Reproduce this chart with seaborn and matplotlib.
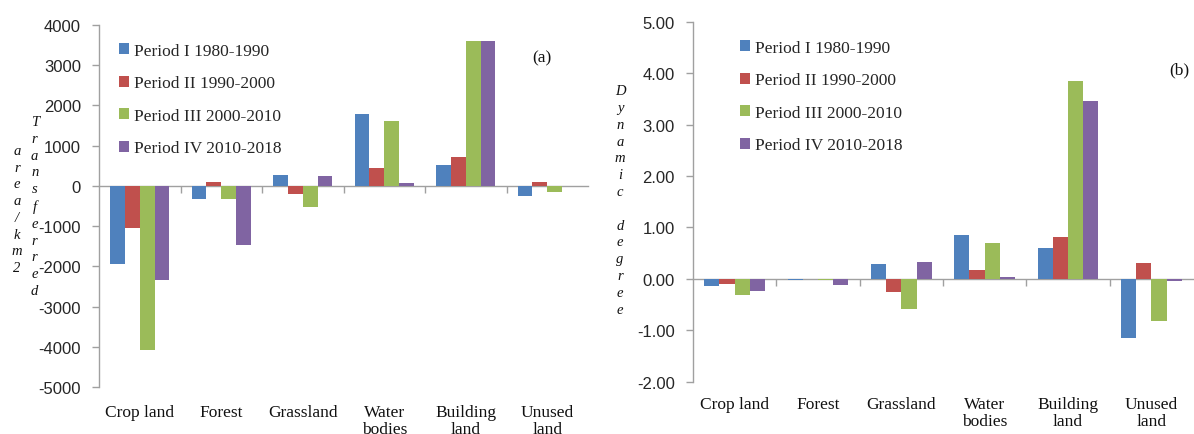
import numpy as np
import pandas as pd
import seaborn as sns
import matplotlib
matplotlib.use("Agg")
import matplotlib.pyplot as plt

# ---------------- data ----------------
categories = ["Crop land", "Forest", "Grassland", "Water\nbodies", "Building\nland", "Unused\nland"]
periods = ["Period I 1980-1990", "Period II 1990-2000", "Period III 2000-2010", "Period IV 2010-2018"]

transfer_p1 = [-1930, -316, 274, 1780, 515, -250]
transfer_p2 = [-1050, 100, -207, 440, 715, 92]
transfer_p3 = [-4070, -330, -524, 1610, 3590, -142]
transfer_p4 = [-2340, -1460, 250, 66, 3590, -15]

dynamic_p1 = [-0.14, -0.03, 0.28, 0.86, 0.60, -1.15]
dynamic_p2 = [-0.10, -0.01, -0.25, 0.18, 0.82, 0.30]
dynamic_p3 = [-0.31, -0.03, -0.59, 0.69, 3.85, -0.82]
dynamic_p4 = [-0.23, -0.11, 0.33, 0.03, 3.46, -0.05]

left_ticks = [-5000, -4000, -3000, -2000, -1000, 0, 1000, 2000, 3000, 4000]
right_ticks = [-2, -1, 0, 1, 2, 3, 4, 5]

colors = ["#4F81BD", "#C0504D", "#9BBB59", "#8064A2"]


def long_frame(series):
    rows = []
    for p, vals in zip(periods, series):
        for c, v in zip(categories, vals):
            rows.append({"cat": c, "period": p, "val": v})
    return pd.DataFrame(rows)


df_a = long_frame([transfer_p1, transfer_p2, transfer_p3, transfer_p4])
df_b = long_frame([dynamic_p1, dynamic_p2, dynamic_p3, dynamic_p4])

# ---------------- style ----------------
sns.set_style("white")
plt.rcParams["font.family"] = ["Liberation Serif", "DejaVu Serif"]
GRAY = "#A0A0A0"
SERIF = "Liberation Serif"
SANS = "Liberation Sans"

W, H = 1194, 435
fig = plt.figure(figsize=(W / 100, H / 100), dpi=100)

ax_a = fig.add_axes([99 / W, (H - 388) / H, 489 / W, 362 / H])
ax_b = fig.add_axes([693 / W, (H - 382.7) / H, 500 / W, 360 / H])


def draw(ax, df, ylim, yticks, fmt, zero_frac, tag, tag_xy, leg_anchor, xpad):
    sns.barplot(data=df, x="cat", y="val", hue="period", order=categories,
                hue_order=periods, palette=colors, saturation=1, width=0.73,
                linewidth=0, errorbar=None, ax=ax)
    ax.set_xlim(-0.5, 5.5)
    ax.set_ylim(*ylim)
    ax.set_yticks(yticks)
    ax.set_yticklabels([fmt(t) for t in yticks], fontfamily=SANS, fontsize=12,
                       color="#262626")
    ax.set_xticks(range(len(categories)))
    ax.set_xticklabels(categories, fontfamily=SERIF, fontsize=12.5, color="#111111",
                       linespacing=1.15)
    ax.tick_params(axis="x", length=0, pad=xpad)
    ax.tick_params(axis="y", length=5, width=1, color=GRAY, direction="out", pad=8, left=True)
    ax.set_xlabel("")
    ax.set_ylabel("")
    for s in ["top", "right", "bottom"]:
        ax.spines[s].set_visible(False)
    ax.spines["left"].set_color(GRAY)
    ax.spines["left"].set_linewidth(1)

    # zero line with category-boundary ticks
    sec = ax.secondary_xaxis(zero_frac)
    sec.set_alignment("bottom")
    sec.set_xticks([0.5, 1.5, 2.5, 3.5, 4.5])
    sec.tick_params(axis="x", length=5, width=1, color=GRAY, direction="out",
                    labelbottom=False, labeltop=False)
    sec.spines["bottom"].set_color(GRAY)
    sec.spines["bottom"].set_linewidth(1)
    for s in ["top", "left", "right"]:
        if s in sec.spines:
            sec.spines[s].set_visible(False)

    ax.legend(loc="upper left", bbox_to_anchor=leg_anchor, frameon=False,
              prop={"family": SERIF, "size": 12.5}, handlelength=0.6,
              handleheight=0.6, handletextpad=0.25, labelspacing=0.95,
              borderpad=0, borderaxespad=0)
    ax.text(tag_xy[0], tag_xy[1], tag, transform=ax.transAxes, fontfamily=SERIF,
            fontsize=12.5, ha="center", va="center", color="#111111")


draw(ax_a, df_a, (-5000, 4000), left_ticks, lambda t: f"{t:d}", 5000 / 9000, "(a)",
     ((541.7 - 99) / 489, (388 - 58) / 362), ((119 - 99) / 489, (388 - 44) / 362), 12)
draw(ax_b, df_b, (-2, 5), right_ticks, lambda t: f"{t:.2f}", 2 / 7, "(b)",
     ((1179 - 693) / 500, (382.7 - 70) / 360), ((740 - 693) / 500, (382.7 - 41) / 360), 10)

# stacked vertical axis labels
lab_kw = dict(ha="center", va="center", multialignment="center", fontfamily=SERIF,
              fontstyle="italic", fontsize=10.5, linespacing=1.38, color="#111111")
fig.text(34.7 / W, (H - 207) / H, "\n".join("Transferred"), **lab_kw)
fig.text(17 / W, (H - 210) / H, "\n".join("area/km2"), **lab_kw)
fig.text(620 / W, (H - 201) / H, "\n".join("Dynamic degree"), **lab_kw)

fig.savefig("out.png", dpi=100)
